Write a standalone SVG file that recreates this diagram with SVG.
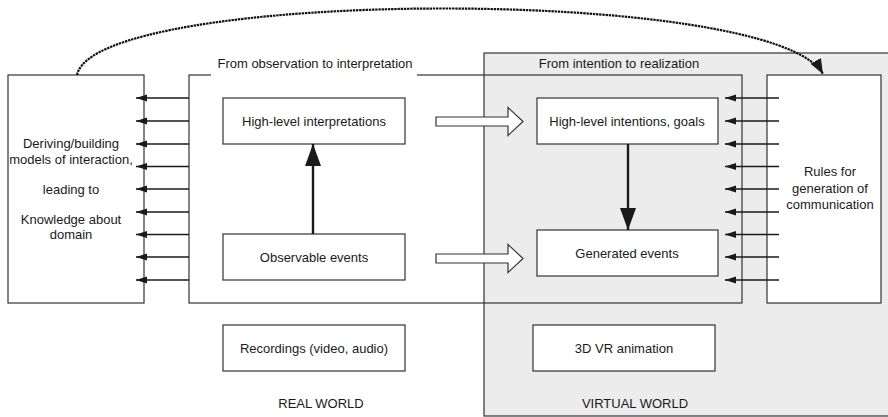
<svg xmlns="http://www.w3.org/2000/svg" width="888" height="417" viewBox="0 0 888 417">
  <defs>
    <style>
      .box { fill: #ffffff; stroke: #333333; stroke-width: 1.2; }
      .frame { fill: none; stroke: #333333; stroke-width: 1.2; }
      .txt { font-family: "Liberation Sans", Arial, sans-serif; font-size: 13px; fill: #1a1a1a; text-anchor: middle; }
      .thin { stroke: #1a1a1a; stroke-width: 1.3; fill: none; }
      .thick { stroke: #1a1a1a; stroke-width: 2.4; fill: none; }
      .hollow { fill: #ffffff; stroke: #333333; stroke-width: 1.2; stroke-linejoin: miter; }
      .dotted { stroke: #111111; stroke-width: 2.2; fill: none; stroke-dasharray: 2.4 0.8; }
    </style>
    <marker id="small" markerWidth="12" markerHeight="8" refX="11" refY="4" orient="auto" markerUnits="userSpaceOnUse">
      <path d="M0,0.5 L11,4 L0,7.5 Z" fill="#1a1a1a"/>
    </marker>
    <marker id="big" markerWidth="24" markerHeight="18" refX="22" refY="8" orient="auto" markerUnits="userSpaceOnUse">
      <path d="M0,0 L22,8 L0,16 Z" fill="#1a1a1a"/>
    </marker>
    <marker id="curveHead" markerWidth="18" markerHeight="14" refX="15" refY="6" orient="auto" markerUnits="userSpaceOnUse">
      <path d="M0,0 L15,6 L0,12 Z" fill="#1a1a1a"/>
    </marker>
  </defs>

  <!-- observation frame: white part outside the virtual world -->
  <rect x="189" y="75" width="295" height="228" fill="#ffffff"/>

  <!-- virtual world background -->
  <g id="virtual-world">
    <rect x="484" y="53" width="410" height="363" fill="#ececec" stroke="#333333" stroke-width="1.2"/>
    <text class="txt" x="635" y="408">VIRTUAL WORLD</text>
  </g>

  <!-- observation-to-realization frame outline -->
  <g id="process-frame">
    <rect class="frame" x="189" y="75" width="553" height="228"/>
    <rect x="211" y="66" width="206" height="14" fill="#ffffff"/>
    <text class="txt" x="315" y="68">From observation to interpretation</text>
    <text class="txt" x="619" y="68">From intention to realization</text>
  </g>

  <g id="real-world-label">
    <text class="txt" x="321" y="408">REAL WORLD</text>
  </g>

  <!-- knowledge box -->
  <g id="knowledge">
    <rect class="box" x="8" y="75" width="136" height="228"/>
    <text class="txt" x="71" y="148">Deriving/building</text>
    <text class="txt" x="71" y="164">models of interaction,</text>
    <text class="txt" x="71" y="194">leading to</text>
    <text class="txt" x="71" y="224">Knowledge about</text>
    <text class="txt" x="71" y="239">domain</text>
  </g>

  <!-- rules box -->
  <g id="rules">
    <rect class="box" x="767" y="75" width="114" height="228"/>
    <text class="txt" x="830" y="176">Rules for</text>
    <text class="txt" x="830" y="193">generation of</text>
    <text class="txt" x="830" y="209">communication</text>
  </g>

  <g id="interpretations">
    <rect class="box" x="223" y="98" width="182" height="46"/>
    <text class="txt" x="314" y="125.5">High-level interpretations</text>
  </g>
  <g id="observable">
    <rect class="box" x="223" y="234" width="182" height="46"/>
    <text class="txt" x="314" y="261.5">Observable events</text>
  </g>
  <g id="intentions">
    <rect class="box" x="537" y="98" width="181" height="46"/>
    <text class="txt" x="627" y="125.5">High-level intentions, goals</text>
  </g>
  <g id="generated">
    <rect class="box" x="537" y="230" width="181" height="46"/>
    <text class="txt" x="627" y="257.5">Generated events</text>
  </g>
  <g id="recordings">
    <rect class="box" x="223" y="325" width="182" height="46"/>
    <text class="txt" x="314" y="352.5">Recordings (video, audio)</text>
  </g>
  <g id="animation">
    <rect class="box" x="533" y="325" width="182" height="46"/>
    <text class="txt" x="624" y="352.5">3D VR animation</text>
  </g>

  <!-- connectors -->
  <g id="connectors">
    <!-- feedback into the knowledge box -->
    <path class="thin" marker-end="url(#small)" d="M189,98 H136"/>
    <path class="thin" marker-end="url(#small)" d="M189,121 H136"/>
    <path class="thin" marker-end="url(#small)" d="M189,144 H136"/>
    <path class="thin" marker-end="url(#small)" d="M189,166.5 H136"/>
    <path class="thin" marker-end="url(#small)" d="M189,189 H136"/>
    <path class="thin" marker-end="url(#small)" d="M189,212 H136"/>
    <path class="thin" marker-end="url(#small)" d="M189,234.5 H136"/>
    <path class="thin" marker-end="url(#small)" d="M189,257 H136"/>
    <path class="thin" marker-end="url(#small)" d="M189,280 H136"/>

    <!-- rules feeding the generation process -->
    <path class="thin" marker-end="url(#small)" d="M779,98 H725"/>
    <path class="thin" marker-end="url(#small)" d="M779,121 H725"/>
    <path class="thin" marker-end="url(#small)" d="M779,144 H725"/>
    <path class="thin" marker-end="url(#small)" d="M779,166.5 H725"/>
    <path class="thin" marker-end="url(#small)" d="M779,189 H725"/>
    <path class="thin" marker-end="url(#small)" d="M779,212 H725"/>
    <path class="thin" marker-end="url(#small)" d="M779,234.5 H725"/>
    <path class="thin" marker-end="url(#small)" d="M779,257 H725"/>
    <path class="thin" marker-end="url(#small)" d="M779,280 H725"/>

    <!-- vertical flows -->
    <path class="thick" marker-end="url(#big)" d="M313,234 V144"/>
    <path class="thick" marker-end="url(#big)" d="M628,144 V230"/>

    <!-- block arrows from real to virtual -->
    <path class="hollow" d="M436,117 H508 V107.5 L523,121.5 L508,135.5 V126 H436 Z"/>
    <path class="hollow" d="M436,254 H508 V244.5 L523,258.5 L508,272.5 V263 H436 Z"/>

    <!-- knowledge reused as rules -->
    <path class="dotted" marker-end="url(#curveHead)" d="M77,75 C95,-12 773,-15 823,74"/>
  </g>
</svg>
